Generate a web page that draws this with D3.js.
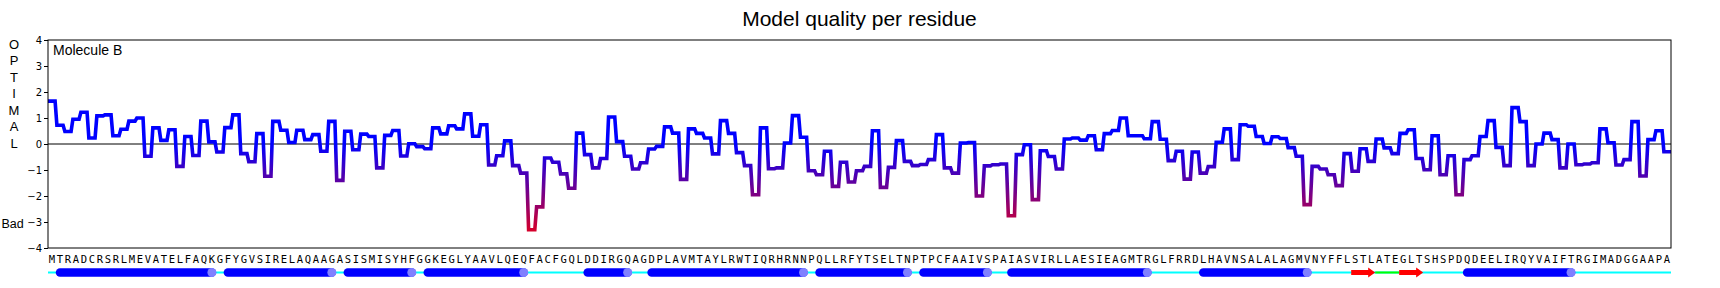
<!DOCTYPE html>
<html>
<head>
<meta charset="utf-8">
<script src="https://cdn.jsdelivr.net/npm/d3@7"></script>
<style>
  html, body { margin: 0; padding: 0; background: #fff; }
  svg { display: block; }
</style>
</head>
<body>
<svg id="chart" width="1720" height="288"></svg>
<script>
// ---------- DATA ----------
const sequence = "MTRADCRSRLMEVATELFAQKGFYGVSIRELAQAAGASISMISYHFGGKEGLYAAVLQEQFACFGQLDDIRGQAGDPLAVMTAYLRWTIQRHRNNPQLLRFYTSELTNPTPCFAAIVSPAIASVIRLLAESIEAGMTRGLFRRDLHAVNSALALAGMVNYFFLSTLATEGLTSHSPDQDEELIRQYVAIFTRGIMADGGAAPA";
const residues = sequence.split("");

const quality = [
  1.65, 0.72, 0.48, 0.95, 1.22, 0.23, 1.08, 1.12, 0.32, 0.57,
  0.88, 1.00, -0.47, 0.62, 0.14, 0.55, -0.86, 0.29, -0.44, 0.88,
  0.08, -0.31, 0.63, 1.12, -0.37, -0.68, 0.40, -1.24, 0.87, 0.53,
  0.06, 0.53, 0.17, 0.36, -0.28, 0.87, -1.40, 0.49, -0.22, 0.38,
  0.29, -0.92, 0.33, 0.52, -0.46, 0.01, -0.10, -0.18, 0.62, 0.39,
  0.70, 0.58, 1.16, 0.30, 0.74, -0.81, -0.45, 0.12, -0.83, -1.12,
  -3.30, -2.42, -0.54, -0.70, -1.15, -1.70, 0.42, -0.41, -0.92, -0.56,
  1.04, 0.09, -0.47, -0.96, -0.72, -0.19, -0.09, 0.66, 0.42, -1.36,
  0.58, 0.41, 0.23, -0.38, 0.90, 0.41, -0.33, -0.83, -1.95, 0.62,
  -0.95, -0.92, 0.04, 1.09, 0.26, -1.03, -1.18, -0.28, -1.63, -0.70,
  -1.46, -1.03, -0.86, 0.51, -1.67, -0.90, 0.13, -0.67, -0.83, -0.79,
  -0.60, 0.36, -0.92, -1.12, 0.04, 0.06, -2.00, -0.84, -0.80, -0.77,
  -2.76, -0.41, -0.03, -2.14, -0.26, -0.48, -0.96, 0.19, 0.23, 0.15,
  0.32, -0.22, 0.40, 0.52, 1.00, 0.32, 0.32, 0.20, 0.86, 0.18,
  -0.64, -0.28, -1.35, -0.31, -1.12, -0.87, 0.07, 0.58, -0.60, 0.74,
  0.68, 0.29, 0.02, 0.28, 0.21, -0.14, -0.47, -2.33, -0.86, -0.96,
  -1.18, -1.60, -0.37, -1.05, -0.18, -0.67, 0.19, -0.15, -0.37, 0.41,
  0.55, -0.56, -0.99, 0.32, -1.18, -0.45, -1.95, -0.60, -0.45, 0.29,
  0.90, -0.13, -0.83, 1.40, 0.86, -0.83, 0.00, 0.42, 0.17, -0.92,
  0.00, -0.80, -0.77, -0.72, 0.58, 0.05, -0.81, -0.60, 0.86, -1.23,
  0.17, 0.51, -0.30
];

const yTicks = [-4, -3, -2, -1, 0, 1, 2, 3, 4];
const sideLabelTop = ["O", "P", "T", "I", "M", "A", "L"];
const sideLabelBottom = "Bad";
const titleText = "Model quality per residue";
const moleculeLabel = "Molecule B";

// secondary structure (residue indices, inclusive)
const helixStart = [1, 22, 37, 47, 67, 75, 96, 109, 120, 144, 177];
const helixEnd   = [20, 35, 45, 59, 72, 94, 107, 117, 137, 157, 190];
const strandStart = [163, 169];
const strandEnd   = [165, 171];
const turnStart = [166];
const turnEnd   = [168];

(function () {
// ---------- LAYOUT ----------
const svg = d3.select("#chart");
const mLeft = 48, mRight = 1671, mTop = 40, mBottom = 248;
const n = residues.length;

const x = d3.scaleLinear().domain([0, n]).range([mLeft, mRight]);
const y = d3.scaleLinear().domain([-4, 4]).range([mBottom, mTop]);
const colorScale = d3.scaleLinear().domain([0, -4]).range(["#0000ff", "#ff0000"]).clamp(true);

// title
svg.append("text")
  .attr("x", (mLeft + mRight) / 2).attr("y", 26)
  .attr("text-anchor", "middle")
  .attr("font-family", "Liberation Sans, Arial, sans-serif")
  .attr("font-size", 21)
  .attr("fill", "#000")
  .text(titleText);

// gradient for the line (by value)
const defs = svg.append("defs");
const grad = defs.append("linearGradient")
  .attr("id", "qgrad")
  .attr("gradientUnits", "userSpaceOnUse")
  .attr("x1", 0).attr("x2", 0)
  .attr("y1", y(0)).attr("y2", y(-4));
d3.range(0, 1.0001, 0.25).forEach(t => {
  grad.append("stop").attr("offset", t).attr("stop-color", colorScale(-4 * t));
});

// zero line
svg.append("line")
  .attr("x1", mLeft).attr("x2", mRight)
  .attr("y1", y(0)).attr("y2", y(0))
  .attr("stroke", "#000").attr("stroke-width", 1);

// step line
const gap = 0.9;
const pts = [];
quality.forEach((v, i) => {
  pts.push([x(i) + (i === 0 ? 0 : gap), y(v)]);
  pts.push([x(i + 1) - (i === n - 1 ? 0 : gap), y(v)]);
});
svg.append("path")
  .attr("d", d3.line()(pts))
  .attr("fill", "none")
  .attr("stroke", "url(#qgrad)")
  .attr("stroke-width", 3.6)
  .attr("stroke-linejoin", "miter");

// frame
svg.append("rect")
  .attr("x", mLeft).attr("y", mTop)
  .attr("width", mRight - mLeft).attr("height", mBottom - mTop)
  .attr("fill", "none").attr("stroke", "#000").attr("stroke-width", 1);

// y axis
const axis = svg.append("g")
  .attr("transform", `translate(${mLeft},0)`)
  .call(d3.axisLeft(y).tickValues(yTicks).tickSize(4).tickPadding(2));
axis.select(".domain").remove();
axis.selectAll("text")
  .attr("font-family", "DejaVu Sans, sans-serif")
  .attr("font-size", 10)
  .attr("fill", "#000");
axis.selectAll("line").attr("stroke", "#000");

// side labels
svg.append("g").selectAll("text")
  .data(sideLabelTop)
  .join("text")
  .attr("x", 14)
  .attr("y", (d, i) => 48.5 + i * 16.5)
  .attr("text-anchor", "middle")
  .attr("font-family", "Liberation Sans, Arial, sans-serif")
  .attr("font-size", 13)
  .text(d => d);
svg.append("text")
  .attr("x", 1.5).attr("y", 228)
  .attr("font-family", "Liberation Sans, Arial, sans-serif")
  .attr("font-size", 12.5)
  .text(sideLabelBottom);

// molecule label
svg.append("text")
  .attr("x", 53).attr("y", 55)
  .attr("font-family", "Liberation Sans, Arial, sans-serif")
  .attr("font-size", 14)
  .text(moleculeLabel);

// sequence letters
svg.append("g").selectAll("text")
  .data(residues)
  .join("text")
  .attr("x", (d, i) => x(i + 0.5))
  .attr("y", 263)
  .attr("text-anchor", "middle")
  .attr("font-family", "DejaVu Sans Mono, monospace")
  .attr("font-size", 10.5)
  .attr("fill", "#000")
  .text(d => d);

// secondary structure
const ssY = 272.5;
const ss = svg.append("g");
ss.append("line")
  .attr("x1", x(0)).attr("x2", x(n))
  .attr("y1", ssY).attr("y2", ssY)
  .attr("stroke", "#00ffff").attr("stroke-width", 2);
turnStart.forEach((s, k) => {
  ss.append("line")
    .attr("x1", x(s)).attr("x2", x(turnEnd[k] + 1))
    .attr("y1", ssY).attr("y2", ssY)
    .attr("stroke", "#00ff00").attr("stroke-width", 2);
});
helixStart.forEach((s, k) => {
  const e = helixEnd[k];
  ss.append("line")
    .attr("x1", x(s + 0.5)).attr("x2", x(e + 0.5))
    .attr("y1", ssY).attr("y2", ssY)
    .attr("stroke", "#0000ff").attr("stroke-width", 8.5)
    .attr("stroke-linecap", "round");
  ss.append("circle")
    .attr("cx", x(e + 0.5)).attr("cy", ssY).attr("r", 4.5)
    .attr("fill", "#8080ff");
});
strandStart.forEach((s, k) => {
  const x0 = x(s), x1 = x(strandEnd[k] + 1);
  const hw = 2.5, hh = 5, hl = 7;
  ss.append("path")
    .attr("d", d3.line()([
      [x0, ssY - hw], [x1 - hl, ssY - hw], [x1 - hl, ssY - hh], [x1, ssY],
      [x1 - hl, ssY + hh], [x1 - hl, ssY + hw], [x0, ssY + hw]
    ]) + "Z")
    .attr("fill", "#ff0000");
});
})();
</script>
</body>
</html>
